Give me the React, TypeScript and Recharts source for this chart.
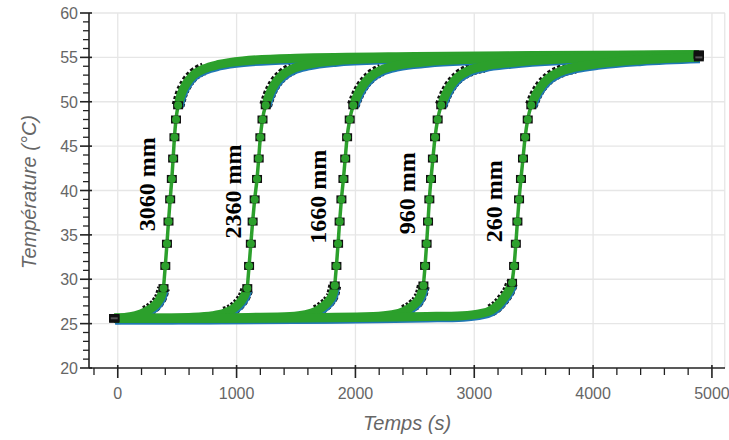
import React from 'react';
import { ComposedChart, Line, Scatter, XAxis, YAxis, ReferenceLine, Label } from 'recharts';

// ---- axis ticks ----
const xTicks = [-200, 0, 200, 400, 600, 800, 1000, 1200, 1400, 1600, 1800, 2000, 2200, 2400, 2600, 2800, 3000, 3200, 3400, 3600, 3800, 4000, 4200, 4400, 4600, 4800, 5000];
const xMajor = [0, 1000, 2000, 3000, 4000, 5000];
const yTicks = [20, 21, 22, 23, 24, 25, 26, 27, 28, 29, 30, 31, 32, 33, 34, 35, 36, 37, 38, 39, 40, 41, 42, 43, 44, 45, 46, 47, 48, 49, 50, 51, 52, 53, 54, 55, 56, 57, 58, 59, 60];
const yMajor = [20, 25, 30, 35, 40, 45, 50, 55, 60];

// ---- series: [time (s), temperature (°C)] ----
const c3060: [number, number][] = [[-30,25.6],[60,25.7],[150,25.9],[230,26.3],[290,26.8],[335,27.4],[365,28.1],[385,29.0],[400,31.5],[414,34],[427,36.5],[441,39],[455,41.3],[466,43.6],[477,46],[490,48],[508,49.6],[535,50.9],[575,52],[635,53],[725,53.7],[850,54.2],[1050,54.6],[1500,54.9],[2500,55.1],[3500,55.2],[4890,55.3]];
const c2360: [number, number][] = [[-30,25.6],[300,25.6],[600,25.7],[800,25.9],[900,26.2],[975,26.7],[1030,27.4],[1068,28.2],[1090,29.0],[1105,31.5],[1120,34],[1135,36.5],[1152,39],[1172,41.3],[1186,43.6],[1200,46],[1218,48],[1245,49.6],[1275,50.8],[1320,52],[1385,53],[1470,53.7],[1600,54.2],[1820,54.6],[2300,54.9],[3200,55.1],[4000,55.2],[4890,55.3]];
const c1660: [number, number][] = [[-30,25.6],[600,25.6],[1100,25.7],[1450,25.8],[1580,26.0],[1670,26.4],[1735,27.0],[1785,27.7],[1812,28.4],[1826,29.3],[1840,31.5],[1854,34],[1867,36.5],[1882,39],[1899,41.3],[1914,43.6],[1930,46],[1952,48],[1982,49.6],[2015,50.7],[2060,51.8],[2125,52.8],[2220,53.6],[2350,54.1],[2600,54.5],[3000,54.8],[3800,55.1],[4890,55.3]];
const c960: [number, number][] = [[-30,25.6],[900,25.6],[1700,25.7],[2150,25.8],[2310,26.0],[2410,26.4],[2480,27.0],[2530,27.7],[2558,28.5],[2572,29.3],[2586,31.5],[2599,34],[2611,36.5],[2622,39],[2636,41.3],[2652,43.6],[2670,46],[2692,48],[2722,49.6],[2755,50.7],[2800,51.8],[2865,52.8],[2950,53.5],[3080,54],[3300,54.4],[3700,54.8],[4300,55.0],[4890,55.2]];
const c260: [number, number][] = [[-30,25.6],[1000,25.6],[2000,25.7],[2600,25.8],[2900,25.9],[3040,26.1],[3140,26.5],[3200,27.1],[3250,27.9],[3290,28.7],[3318,29.6],[3335,31.5],[3350,34],[3363,36.5],[3377,39],[3393,41.3],[3410,43.6],[3428,46],[3450,48],[3480,49.6],[3515,50.7],[3565,51.8],[3630,52.7],[3720,53.4],[3850,53.9],[4050,54.3],[4400,54.7],[4890,55.0]];

const seriesNames = ['3060 mm', '2360 mm', '1660 mm', '960 mm', '260 mm'];
const seriesData = [c3060, c2360, c1660, c960, c260];

// label anchor positions (time, temperature)
const labelX = [245, 970, 1688, 2430, 3165];
const labelY = [40.7, 39.9, 39.3, 39.7, 38.8];

const GREEN = '#2ca02c';
const BLUE = '#1f77b4';
const BLACK = '#111';
const GRID = '#e6e6e6';
const TXT = '#666';
const FONT = '"Liberation Sans", Arial, sans-serif';

type P = { x: number; y: number };
const toPts = (a: [number, number][]): P[] => a.map(([x, y]) => ({ x, y }));

const split = (a: [number, number][]) => {
  const pts = toPts(a);
  const i = pts.findIndex((p) => p.y >= 29);
  const j = pts.findIndex((p) => p.y >= 49.5);
  const lower = pts.slice(0, i + 1);
  const steep = pts.slice(i, j + 1);
  const upper = pts.slice(j);
  const lowerBend = lower.filter((p) => p.y >= 26.2);
  const upperBend = upper.filter((p) => p.y <= 54.0);
  const markers = [pts[0], ...steep, pts[pts.length - 1]];
  return { lower, steep, upper, lowerBend, upperBend, markers };
};

const parts = seriesData.map(split);
const labelData = seriesNames.map((t, k) => ({ x: labelX[k], y: labelY[k], text: t }));

const XTick = (props: any) => {
  const { x, y, payload } = props;
  const major = xMajor.includes(payload.value);
  return (
    <g>
      {major ? (
        <line x1={x} x2={x} y1={y - 3} y2={y + 10} stroke="#222" strokeWidth={1.6} />
      ) : (
        <line x1={x} x2={x} y1={y} y2={y + 7} stroke="#222" strokeWidth={1.3} />
      )}
      {major && (
        <text x={x} y={y + 31} textAnchor="middle" fill={TXT} fontSize={16} fontFamily={FONT}>
          {payload.value}
        </text>
      )}
    </g>
  );
};

const YTick = (props: any) => {
  const { x, y, payload } = props;
  const major = yMajor.includes(payload.value);
  return (
    <g>
      {major ? (
        <line x1={x - 9} x2={x + 3} y1={y} y2={y} stroke="#222" strokeWidth={1.6} />
      ) : (
        <line x1={x - 6} x2={x} y1={y} y2={y} stroke="#222" strokeWidth={1.3} />
      )}
      {major && (
        <text x={x - 11} y={y + 6} textAnchor="end" fill={TXT} fontSize={16} fontFamily={FONT}>
          {payload.value}
        </text>
      )}
    </g>
  );
};

const MarkerShape = (props: any) => {
  const { cx, cy } = props;
  if (cx == null || cy == null) return null;
  return (
    <g>
      <rect x={cx - 5} y={cy - 4} width={10} height={8} fill={BLACK} />
      <rect x={cx - 3.5} y={cy - 1} width={7} height={2} fill="#555" />
    </g>
  );
};

const LabelShape = (props: any) => {
  const { cx, cy, payload } = props;
  return (
    <text
      x={cx}
      y={cy}
      transform={`rotate(-90 ${cx} ${cy})`}
      textAnchor="middle"
      dominantBaseline="central"
      fontFamily='"Liberation Serif", "Times New Roman", serif'
      fontWeight="bold"
      fontSize={24}
      fill="#000"
    >
      {payload.text}
    </text>
  );
};

export default function App() {
  return (
    <div style={{ position: 'absolute', left: 0, top: 0, background: '#fff' }}>
      <ComposedChart width={729} height={440} margin={{ top: 13, right: 4, bottom: 0, left: 0 }}>
        <XAxis
          type="number"
          dataKey="x"
          domain={[-242, 5110]}
          allowDataOverflow
          ticks={xTicks}
          interval={0}
          tick={<XTick />}
          tickLine={false}
          tickSize={0}
          tickMargin={0}
          height={72}
          axisLine={{ stroke: '#222', strokeWidth: 1.6 }}
        >
          <Label
            content={() => (
              <text x={407} y={430} textAnchor="middle" fill={TXT} fontSize={20} fontStyle="italic" fontFamily={FONT}>
                Temps (s)
              </text>
            )}
          />
        </XAxis>
        <YAxis
          type="number"
          dataKey="y"
          domain={[20, 60]}
          allowDataOverflow
          ticks={yTicks}
          interval={0}
          tick={<YTick />}
          tickLine={false}
          tickSize={0}
          tickMargin={0}
          width={89}
          axisLine={{ stroke: '#222', strokeWidth: 1.6 }}
        >
          <Label
            content={() => (
              <text
                x={36}
                y={192}
                transform="rotate(-90 36 192)"
                textAnchor="middle"
                fill={TXT}
                fontSize={20}
                fontStyle="italic"
                fontFamily={FONT}
              >
                Température (°C)
              </text>
            )}
          />
        </YAxis>

        {yMajor.slice(1).map((v) => (
          <ReferenceLine key={'gy' + v} y={v} stroke={GRID} strokeWidth={1.3} />
        ))}
        {xMajor.map((v) => (
          <ReferenceLine key={'gx' + v} x={v} stroke={GRID} strokeWidth={1.3} />
        ))}
        <ReferenceLine x={5108} stroke={GRID} strokeWidth={1.3} />

        {parts.map((p, k) => (
          <Line key={'bl' + k} data={p.lowerBend} dataKey="y" type="monotone" stroke={BLACK} strokeWidth={13} strokeDasharray="3 2" dot={false} isAnimationActive={false} />
        ))}
        {parts.map((p, k) => (
          <Line key={'bu' + k} data={p.upperBend} dataKey="y" type="monotone" stroke={BLACK} strokeWidth={13} strokeDasharray="3 2" dot={false} isAnimationActive={false} />
        ))}
        {parts.map((p, k) => (
          <Scatter key={'m' + k} data={p.markers} dataKey="y" shape={<MarkerShape />} isAnimationActive={false} />
        ))}
        {parts.map((p, k) => (
          <Line key={'vl' + k} data={p.lower} dataKey="y" type="monotone" stroke={BLUE} strokeWidth={9} transform="translate(1,1.5)" dot={false} isAnimationActive={false} />
        ))}
        {parts.map((p, k) => (
          <Line key={'vu' + k} data={p.upper} dataKey="y" type="monotone" stroke={BLUE} strokeWidth={9} transform="translate(1,1.5)" dot={false} isAnimationActive={false} />
        ))}
        {parts.map((p, k) => (
          <Line key={'gl' + k} data={p.lower} dataKey="y" type="monotone" stroke={GREEN} strokeWidth={9} strokeLinejoin="round" dot={false} isAnimationActive={false} />
        ))}
        {parts.map((p, k) => (
          <Line key={'gu' + k} data={p.upper} dataKey="y" type="monotone" stroke={GREEN} strokeWidth={9} strokeLinejoin="round" dot={false} isAnimationActive={false} />
        ))}
        {parts.map((p, k) => (
          <Line
            key={'gs' + k}
            data={p.steep}
            dataKey="y"
            type="monotone"
            stroke={GREEN}
            strokeWidth={3.5}
            dot={{ r: 4, fill: GREEN, stroke: 'none' }}
            isAnimationActive={false}
          />
        ))}
        <Scatter data={labelData} dataKey="y" shape={<LabelShape />} isAnimationActive={false} />
      </ComposedChart>
    </div>
  );
}
